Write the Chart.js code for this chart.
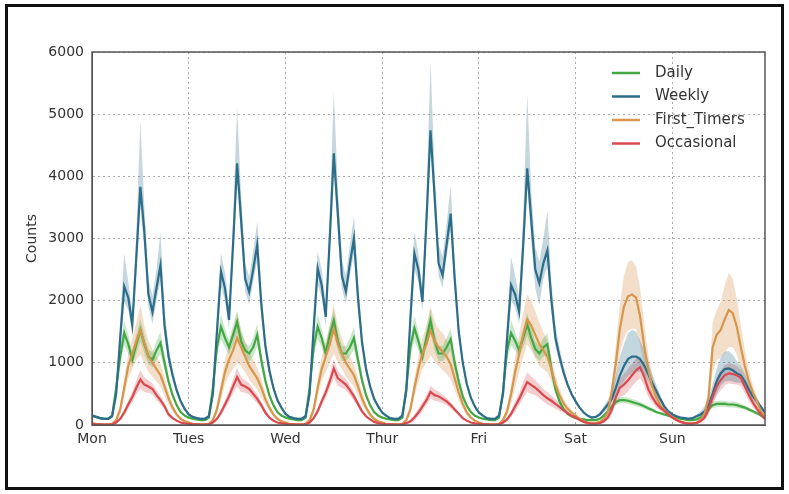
<!DOCTYPE html>
<html>
<head>
<meta charset="utf-8">
<script src="https://cdn.jsdelivr.net/npm/chart.js@4.4.0/dist/chart.umd.min.js"></script>
<style>
html, body { margin: 0; padding: 0; background: #fff; }
#wrap { position: relative; width: 789px; height: 494px; }
#wrap canvas { position: absolute; left: 0; top: 0; }
#frame { position: absolute; left: 5px; top: 4px; width: 773px; height: 480px; border: 3px solid #111; pointer-events: none; }
</style>
</head>
<body>
<div id="wrap">
  <canvas id="chart" width="789" height="494"></canvas>
  <div id="frame"></div>
</div>
<script>
// hourly counts over one week, Mon 00h .. Sun 23h
const dayLabels = ['Mon', 'Tues', 'Wed', 'Thur', 'Fri', 'Sat', 'Sun'];
const yTicks = [0, 1000, 2000, 3000, 4000, 5000, 6000];

const daily = [
  150,130,110,100,100,150, 600,1100,1480,1300,1050,1300, 1530,1300,1100,1050,1200,1320, 1000,700,480,320,210,150,
  120,100,90,80,80,120, 600,1250,1580,1400,1250,1450, 1660,1350,1200,1150,1250,1450, 1050,720,480,320,210,150,
  120,100,90,80,80,120, 600,1250,1580,1400,1150,1450, 1680,1350,1150,1150,1250,1400, 1050,720,480,320,210,150,
  120,100,90,80,80,120, 600,1250,1560,1350,1100,1400, 1680,1350,1150,1150,1250,1380, 1000,700,460,310,210,150,
  120,100,90,80,80,120, 550,1200,1480,1350,1200,1400, 1620,1400,1220,1150,1250,1300, 900,580,380,260,180,140,
  110,100,90,80,80,80, 100,150,220,300,370,400, 400,390,370,350,330,300, 270,240,210,190,170,150,
  130,110,100,90,80,80, 90,120,180,260,320,340, 340,340,330,330,320,300, 280,250,220,190,150,110
];
const dailyErr = [
  20,15,15,10,10,20, 80,150,200,150,120,150, 180,150,120,120,150,180, 120,80,50,30,20,20,
  20,15,15,10,10,20, 80,150,200,150,120,150, 180,150,120,120,150,180, 120,80,50,30,20,20,
  20,15,15,10,10,20, 80,150,200,150,120,150, 180,150,120,120,150,180, 120,80,50,30,20,20,
  20,15,15,10,10,20, 80,150,200,150,120,150, 180,150,120,120,150,180, 120,80,50,30,20,20,
  20,15,15,10,10,20, 80,150,200,150,120,150, 180,150,120,120,150,180, 120,80,50,30,20,20,
  20,15,15,10,10,10, 15,20,30,40,50,50, 50,50,50,50,45,40, 35,30,25,20,20,15,
  20,15,15,10,10,10, 15,20,30,40,50,50, 50,50,50,50,45,40, 35,30,25,20,20,15
];

const weekly = [
  150,130,110,100,100,140, 500,1400,2230,2050,1610,2700, 3830,3100,2100,1820,2200,2570, 1600,1100,800,560,380,260,
  170,130,110,100,100,140, 500,1500,2470,2200,1690,2900, 4210,3300,2350,2140,2500,2900, 1950,1280,880,600,400,280,
  180,130,110,100,100,140, 500,1550,2520,2250,1740,3000, 4370,3400,2400,2150,2600,3000, 2050,1330,900,620,420,300,
  200,150,110,100,100,150, 550,1700,2760,2500,1980,3300, 4740,3700,2600,2410,2900,3400, 2350,1500,1000,660,440,300,
  200,150,110,100,100,150, 500,1400,2250,2100,1820,2900, 4130,3300,2500,2280,2600,2810, 2000,1400,1100,850,650,500,
  380,280,200,150,120,130, 170,250,330,420,600,800, 950,1060,1100,1100,1060,960, 820,680,550,420,300,220,
  170,140,120,110,100,110, 140,170,220,320,500,700, 830,900,910,880,830,800, 700,570,460,380,290,200
];
const weeklyErrHi = [
  30,20,20,20,20,30, 100,300,530,250,200,400, 1050,400,250,250,300,540, 250,150,100,60,40,30,
  30,20,20,20,20,30, 100,250,290,250,200,400, 900,400,250,250,300,370, 250,150,100,60,40,30,
  30,20,20,20,20,30, 100,250,270,250,200,400, 990,400,250,250,300,370, 250,150,100,60,40,30,
  30,20,20,20,20,30, 100,300,350,250,200,400, 1100,400,300,300,350,450, 250,150,100,60,40,30,
  30,20,20,20,20,30, 100,300,450,300,250,450, 1200,450,350,350,400,640, 300,200,150,100,60,40,
  30,20,20,20,20,20, 30,50,80,120,200,300, 350,420,430,400,300,250, 200,150,100,60,40,30,
  30,20,20,20,20,20, 30,50,80,100,150,200, 250,280,280,250,200,150, 120,100,80,60,40,30
];
const weeklyErrLo = [
  30,20,20,20,20,30, 100,200,250,200,150,250, 300,300,200,200,200,250, 200,120,80,50,30,30,
  30,20,20,20,20,30, 100,200,250,200,150,250, 300,300,200,200,200,250, 200,120,80,50,30,30,
  30,20,20,20,20,30, 100,200,250,200,150,250, 300,300,200,200,200,250, 200,120,80,50,30,30,
  30,20,20,20,20,30, 100,200,250,200,150,250, 300,300,200,200,200,250, 200,120,80,50,30,30,
  30,20,20,20,20,30, 100,200,250,200,200,300, 300,350,300,350,250,250, 200,150,100,60,40,30,
  30,20,20,20,20,20, 30,50,80,100,150,200, 250,270,270,250,200,150, 120,100,80,60,40,30,
  30,20,20,20,20,20, 30,50,80,100,150,200, 200,200,200,180,150,120, 100,80,60,50,40,30
];

const firstTimers = [
  30,20,15,10,10,20, 80,250,600,950,1150,1350, 1530,1300,1100,1000,900,800, 620,430,280,170,100,60,
  40,20,15,10,10,20, 80,250,550,850,1050,1200, 1400,1250,1100,950,850,750, 600,420,280,170,100,60,
  40,20,15,10,10,20, 80,250,600,900,1100,1300, 1550,1300,1150,1000,900,800, 620,430,280,170,100,60,
  40,20,15,10,10,20, 80,250,600,900,1150,1300, 1520,1350,1250,1180,1100,980, 750,520,340,200,120,70,
  40,20,15,10,10,20, 80,220,500,850,1150,1450, 1700,1600,1450,1300,1200,1100, 900,650,480,350,260,200,
  150,100,60,40,30,30, 50,100,200,550,1000,1550, 1900,2070,2100,2050,1750,1280, 900,620,450,320,240,180,
  130,90,60,40,30,30, 40,80,180,450,1250,1450, 1530,1700,1850,1800,1580,1250, 950,700,520,380,220,130
];
const firstTimersErr = [
  10,5,5,5,5,5, 30,80,150,200,250,300, 400,300,250,220,200,180, 150,100,60,40,20,15,
  10,5,5,5,5,5, 30,80,150,200,250,300, 400,300,250,220,200,180, 150,100,60,40,20,15,
  10,5,5,5,5,5, 30,80,150,200,250,300, 400,300,250,220,200,180, 150,100,60,40,20,15,
  10,5,5,5,5,5, 30,80,150,200,250,300, 400,320,300,300,280,250, 180,120,70,40,20,15,
  10,5,5,5,5,5, 30,80,150,250,300,350, 400,400,380,350,300,260, 200,150,100,80,60,40,
  30,20,10,10,5,5, 10,30,60,150,300,400, 500,550,550,500,450,350, 250,180,120,80,60,40,
  30,20,10,10,5,5, 10,30,60,150,400,400, 450,550,600,550,450,350, 250,180,120,80,60,40
];

const occasional = [
  20,10,10,5,5,10, 40,100,200,330,450,600, 730,650,620,580,480,400, 300,170,110,70,40,25,
  20,10,10,5,5,10, 40,100,200,330,460,620, 770,650,620,580,500,420, 320,200,120,70,40,25,
  20,10,10,5,5,10, 40,110,220,380,520,700, 910,750,700,650,560,460, 340,220,140,90,50,30,
  20,10,10,5,5,10, 30,60,120,200,300,400, 530,480,460,420,380,320, 250,180,110,70,40,25,
  20,10,10,5,5,10, 40,90,180,300,420,560, 690,640,600,540,480,430, 390,340,290,240,190,150,
  120,80,50,30,20,20, 30,60,120,250,450,600, 650,720,800,880,930,780, 580,450,350,280,230,170,
  120,80,50,30,20,20, 30,60,120,250,450,620, 720,800,830,820,800,760, 620,480,360,260,170,100
];
const occasionalErr = [
  5,5,5,5,5,5, 15,30,50,70,90,110, 150,120,100,90,80,70, 50,40,25,15,10,5,
  5,5,5,5,5,5, 15,30,50,70,90,110, 150,120,100,90,80,70, 50,40,25,15,10,5,
  5,5,5,5,5,5, 15,30,50,70,90,110, 150,120,100,90,80,70, 50,40,25,15,10,5,
  5,5,5,5,5,5, 15,30,50,60,70,80, 100,90,80,70,60,50, 40,30,20,15,10,5,
  5,5,5,5,5,5, 15,30,50,80,100,130, 160,140,120,110,100,100, 90,80,60,40,30,20,
  20,15,10,5,5,5, 10,20,40,80,120,150, 170,180,180,180,180,150, 120,90,70,50,40,30,
  20,15,10,5,5,5, 10,20,40,80,120,150, 160,160,160,160,150,130, 110,90,70,50,40,30
];

const series = [
  { name: 'Daily', mean: daily, hi: dailyErr, lo: dailyErr, color: '#42a844', band: 'rgba(66,168,68,0.28)', order: 4 },
  { name: 'Weekly', mean: weekly, hi: weeklyErrHi, lo: weeklyErrLo, color: '#2c6d8a', band: 'rgba(44,109,138,0.28)', order: 3 },
  { name: 'First_Timers', mean: firstTimers, hi: firstTimersErr, lo: firstTimersErr, color: '#d6964c', band: 'rgba(214,150,76,0.3)', order: 2 },
  { name: 'Occasional', mean: occasional, hi: occasionalErr, lo: occasionalErr, color: '#d94a50', band: 'rgba(217,74,80,0.28)', order: 1 }
];

const pts = arr => arr.map((v, i) => ({ x: i, y: v }));

const datasets = [];
series.forEach(s => {
  datasets.push({
    label: s.name + ' lo', data: pts(s.mean.map((v, i) => Math.max(0, v - s.lo[i]))),
    borderWidth: 0, pointRadius: 0, fill: false, order: 10
  });
  datasets.push({
    label: s.name + ' hi', data: pts(s.mean.map((v, i) => v + s.hi[i])),
    borderWidth: 0, pointRadius: 0, fill: '-1', backgroundColor: s.band, order: 10
  });
});
series.forEach(s => {
  datasets.push({
    label: s.name, data: pts(s.mean), borderColor: s.color, borderWidth: 2.2,
    pointRadius: 0, fill: false, order: s.order
  });
});

// axes frame + legend inside the plot, top right
const frameLegend = {
  id: 'frameLegend',
  afterDatasetsDraw(chart) {
    const { ctx, chartArea: a } = chart;
    ctx.save();
    ctx.strokeStyle = '#555';
    ctx.lineWidth = 1.5;
    ctx.strokeRect(a.left, a.top, a.right - a.left, a.bottom - a.top);
    ctx.font = '15px "DejaVu Sans"';
    ctx.textBaseline = 'middle';
    series.forEach((s, i) => {
      const y = a.top + 21 + i * 23.5;
      ctx.strokeStyle = s.color;
      ctx.lineWidth = 2.5;
      ctx.beginPath();
      ctx.moveTo(a.right - 153, y);
      ctx.lineTo(a.right - 125, y);
      ctx.stroke();
      ctx.fillStyle = '#333';
      ctx.fillText(s.name, a.right - 110, y);
    });
    ctx.restore();
  }
};

new Chart(document.getElementById('chart').getContext('2d'), {
  type: 'line',
  data: { datasets: datasets },
  plugins: [frameLegend],
  options: {
    responsive: false,
    animation: false,
    devicePixelRatio: 1,
    layout: { padding: { top: 52, right: 24, bottom: 39, left: 0 } },
    elements: { line: { tension: 0 } },
    plugins: { legend: { display: false }, tooltip: { enabled: false } },
    scales: {
      x: {
        type: 'linear', min: 0, max: 167,
        afterFit: sc => { sc.height = 30; },
        ticks: {
          stepSize: 24, includeBounds: false, padding: 6, color: '#333',
          font: { family: 'DejaVu Sans', size: 14 },
          callback: v => dayLabels[v / 24]
        },
        grid: { color: '#aaa', drawTicks: false, lineWidth: 1 },
        border: { display: true, color: '#555', dash: [2, 3] }
      },
      y: {
        min: 0, max: 6000,
        afterFit: sc => { sc.width = 92; },
        afterBuildTicks: sc => { sc.ticks = yTicks.map(v => ({ value: v })); },
        ticks: {
          padding: 8, color: '#333', font: { family: 'DejaVu Sans', size: 14 },
          callback: v => String(v)
        },
        grid: { color: '#aaa', drawTicks: false, lineWidth: 1 },
        border: { display: true, color: '#555', dash: [2, 3] },
        title: { display: true, text: 'Counts', color: '#333', font: { family: 'DejaVu Sans', size: 14 }, padding: { top: 24, bottom: 0 } }
      }
    }
  }
});
</script>
</body>
</html>
